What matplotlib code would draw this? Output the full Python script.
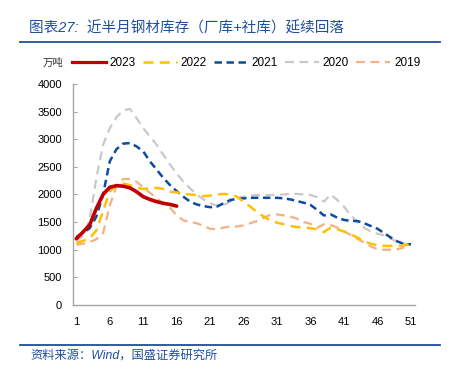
import numpy as np
import matplotlib
matplotlib.use('Agg')
import matplotlib.pyplot as plt
from matplotlib.lines import Line2D

plt.rcParams['font.family'] = ['Liberation Sans', 'Noto Sans CJK SC', 'DejaVu Sans']

# weekly steel inventory (万吨)
y2023 = [1200, 1320, 1450, 1750, 2000, 2130, 2160, 2150, 2120, 2050, 1960, 1910, 1870, 1840, 1820, 1790]
y2022 = [1120, 1160, 1210, 1350, 1700, 2050, 2170, 2200, 2170, 2120, 2100, 2110, 2120, 2100, 2050, 2040,
         2010, 2000, 1990, 1970, 1980, 2000, 2010, 2000, 1960, 1870, 1780, 1680, 1600, 1530, 1490, 1460,
         1430, 1410, 1400, 1390, 1370, 1320, 1400, 1370, 1330, 1280, 1220, 1150, 1110, 1080, 1070, 1070,
         1070, 1080, 1100]
y2021 = [1230, 1300, 1390, 1600, 2000, 2600, 2820, 2920, 2930, 2870, 2780, 2600, 2450, 2300, 2170, 2060,
         1960, 1870, 1820, 1790, 1770, 1780, 1840, 1900, 1920, 1930, 1940, 1940, 1940, 1940, 1940, 1930,
         1910, 1880, 1850, 1810, 1720, 1620, 1640, 1580, 1540, 1520, 1520, 1480, 1430, 1380, 1300, 1220,
         1150, 1100, 1100]
y2020 = [1150, 1250, 1550, 2300, 2900, 3200, 3400, 3520, 3550, 3380, 3200, 3050, 2900, 2720, 2540, 2380,
         2230, 2110, 2000, 1910, 1840, 1800, 1810, 1870, 1930, 1960, 1980, 1990, 1990, 1990, 2000, 2000,
         2010, 2010, 2000, 1990, 1950, 1870, 2000, 1900, 1780, 1620, 1500, 1400, 1330, 1290, 1260, 1200,
         1140, 1110, 1100]
y2019 = [1090, 1110, 1140, 1190, 1300, 1800, 2150, 2280, 2280, 2230, 2130, 2030, 1930, 1840, 1760, 1620,
         1530, 1500, 1480, 1430, 1380, 1370, 1400, 1420, 1420, 1440, 1480, 1520, 1580, 1630, 1640, 1620,
         1600, 1560, 1500, 1470, 1400, 1460, 1450, 1400, 1330, 1270, 1200, 1130, 1060, 1010, 1000, 1000,
         1010, 1040]
xticks = [1, 6, 11, 16, 21, 26, 31, 36, 41, 46, 51]

blue = '#1F4E9C'

fig = plt.figure(figsize=(4.56, 3.74), dpi=100)
ax = fig.add_axes([0.160, 0.1845, 0.750, 0.591])

def weeks(v):
    return np.arange(1, len(v) + 1)

ax.plot(weeks(y2019), y2019, color='#F4B183', lw=1.6, dashes=(4, 2.5), label='2019', zorder=1)
ax.plot(weeks(y2020), y2020, color='#C9C9C9', lw=1.6, dashes=(4, 2.5), label='2020', zorder=2)
ax.plot(weeks(y2021), y2021, color='#0B4C9E', lw=1.8, dashes=(3, 1.8), label='2021', zorder=3)
ax.plot(weeks(y2022), y2022, color='#FFC000', lw=1.8, dashes=(4, 2.5), label='2022', zorder=4)
ax.plot(weeks(y2023), y2023, color='#C00000', lw=2.6, label='2023', zorder=5, solid_capstyle='round')

ax.set_xlim(0.5, 51.6)
ax.set_ylim(0, 4000)
ax.set_yticks(range(0, 4001, 500))
ax.set_xticks(xticks)
ax.tick_params(axis='y', direction='in', length=3, color='#A6A6A6', labelsize=8, pad=8)
ax.tick_params(axis='x', length=0, labelsize=8, pad=9)
for s in ['top', 'right']:
    ax.spines[s].set_visible(False)
for s in ['left', 'bottom']:
    ax.spines[s].set_color('#A6A6A6')
    ax.spines[s].set_linewidth(1.0)

# legend row
handles = [Line2D([], [], color='#C00000', lw=2.3),
           Line2D([], [], color='#FFC000', lw=1.8, dashes=(4, 2.5)),
           Line2D([], [], color='#0B4C9E', lw=1.8, dashes=(3, 1.8)),
           Line2D([], [], color='#C9C9C9', lw=1.6, dashes=(4, 2.5)),
           Line2D([], [], color='#F4B183', lw=1.6, dashes=(4, 2.5))]
fig.legend(handles, ['2023', '2022', '2021', '2020', '2019'], ncol=5, frameon=False,
           loc='center left', bbox_to_anchor=(72 / 456, 1 - 63 / 374), fontsize=8.5,
           handlelength=2.9, handletextpad=0.3, columnspacing=0.6, borderaxespad=0, borderpad=0)
fig.text(43 / 456, 1 - 63 / 374, '万吨', fontsize=7.5, va='center', ha='left', color='#333333')

# header and footer
fig.text(29 / 456, 1 - 28 / 374, '图表27:  近半月钢材库存（厂库+社库）延续回落', fontsize=10.5,
         color=blue, va='center', ha='left', style='italic')
fig.add_artist(Line2D([20 / 456, 440 / 456], [1 - 42 / 374] * 2, color=blue, lw=1.3))
fig.add_artist(Line2D([20 / 456, 440 / 456], [1 - 345 / 374] * 2, color=blue, lw=1.3))
fig.text(30 / 456, 1 - 356 / 374, '资料来源：Wind，国盛证券研究所', fontsize=8.8,
         color=blue, va='center', ha='left', style='italic')

plt.savefig('out.png', dpi=100)
